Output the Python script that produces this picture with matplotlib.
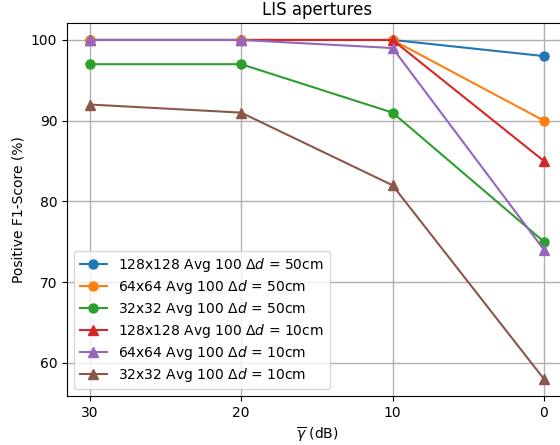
import matplotlib
matplotlib.use("Agg")
import matplotlib.pyplot as plt

x_db = [30, 20, 10, 0]
labels = [
    r"128x128 Avg 100 $\Delta d$ = 50cm",
    r"64x64 Avg 100 $\Delta d$ = 50cm",
    r"32x32 Avg 100 $\Delta d$ = 50cm",
    r"128x128 Avg 100 $\Delta d$ = 10cm",
    r"64x64 Avg 100 $\Delta d$ = 10cm",
    r"32x32 Avg 100 $\Delta d$ = 10cm",
]
f1_128_50 = [100, 100, 100, 98]
f1_64_50 = [100, 100, 100, 90]
f1_32_50 = [97, 97, 91, 75]
f1_128_10 = [100, 100, 100, 85]
f1_64_10 = [100, 100, 99, 74]
f1_32_10 = [92, 91, 82, 58]
series = [f1_128_50, f1_64_50, f1_32_50, f1_128_10, f1_64_10, f1_32_10]
markers = ["o", "o", "o", "^", "^", "^"]
colors = ["#1f77b4", "#ff7f0e", "#2ca02c", "#d62728", "#9467bd", "#8c564b"]

fig = plt.figure(figsize=(5.6, 4.45), dpi=100)
ax = fig.add_axes([67/560, 49/445, (566.7-67)/560, (396-23)/445])
for y, lab, m, c in zip(series, labels, markers, colors):
    ax.plot(x_db, y, marker=m, color=c, label=lab, lw=1.5, ms=6.5)
ax.set_xticks([30, 20, 10, 0])
ax.invert_xaxis()
ax.set_yticks([60, 70, 80, 90, 100])
ax.grid(True, color="#b0b0b0", lw=1.0)
ax.set_xlabel(r"$\overline{\gamma}$ (dB)")
ax.set_ylabel("Positive F1-Score (%)")
ax.set_title("LIS apertures")
ax.legend(loc="lower left", labelspacing=0.28)
fig.savefig("out.png", dpi=100)
